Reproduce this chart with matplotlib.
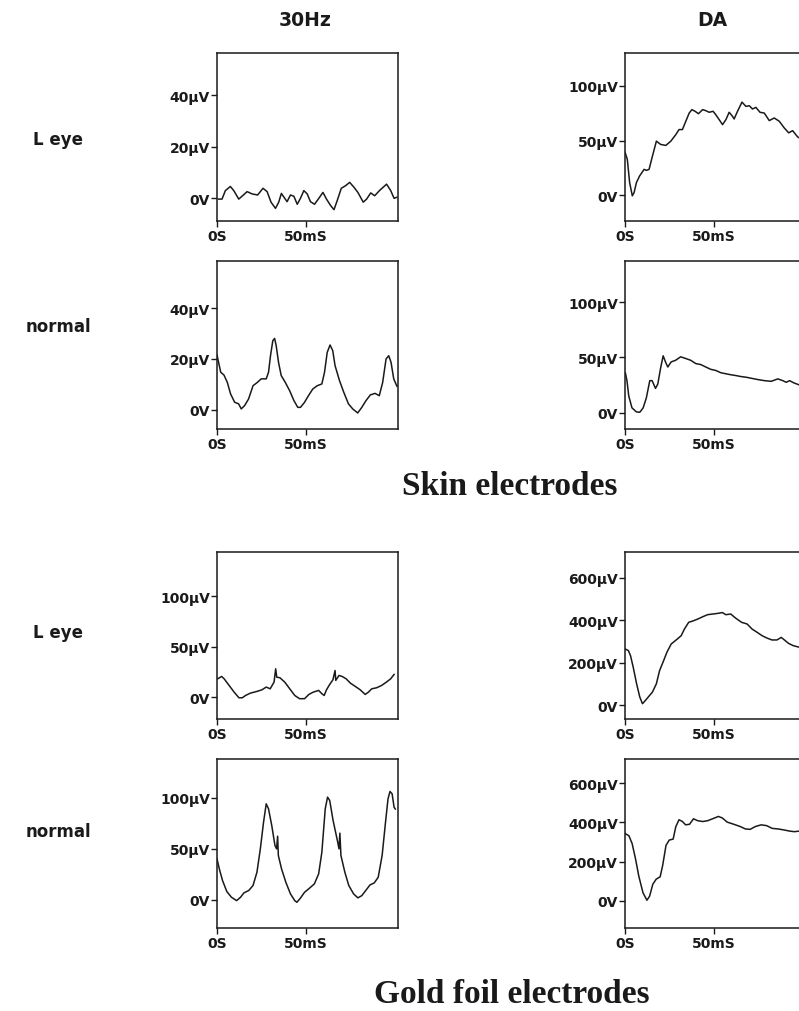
import matplotlib
matplotlib.use("Agg")
import matplotlib.pyplot as plt

# ---------------- data (time in ms, amplitude in µV) ----------------
skin_30hz_leye_t = [0.9, 2.8, 4.7, 7.5, 9.4, 12.2, 14.0, 16.9, 19.7, 22.8, 25.8, 28.1, 30.3, 32.8, 34.6, 36.1,
                    38.0, 39.3, 41.2, 43.1, 45.0, 46.8, 48.7, 50.6, 52.4, 54.7, 57.1, 59.4, 61.4, 63.7, 65.6,
                    67.4, 69.7, 72.1, 74.4, 76.8, 79.0, 82.0, 83.9, 86.2, 88.4, 91.4, 95.1, 97.4, 99.3, 100.8]
skin_30hz_leye_v = [-0.3, -0.3, 3.0, 4.6, 3.0, -0.3, 0.8, 2.6, 1.7, 1.3, 3.9, 2.6, -1.5, -3.9, -1.5, 1.9,
                    0.0, -1.3, 1.3, 0.8, -2.3, 0.0, 3.0, 1.7, -1.3, -2.3, 0.0, 2.3, -0.3, -2.8, -4.4,
                    -0.9, 3.9, 4.9, 6.2, 4.3, 2.3, -1.5, -0.3, 2.1, 1.0, 3.2, 5.5, 3.0, 0.0, 0.4]

skin_30hz_norm_t = [0, 1.1, 2.1, 3.9, 5.8, 7.6, 9.9, 12.1, 13.6, 15.5, 17.7, 20.2, 22.6, 24.8, 27.6, 28.9,
                    30.0, 31.3, 32.3, 33.2, 34.5, 36.0, 38.3, 40.7, 43.1, 45.3, 46.8, 49.1, 51.3, 53.7, 56.2,
                    58.8, 60.3, 61.8, 63.4, 64.9, 66.2, 68.7, 71.1, 73.7, 76.1, 78.9, 81.2, 83.6, 86.0, 88.6,
                    91.0, 92.9, 94.8, 96.3, 97.6, 99.1, 100.9]
skin_30hz_norm_v = [21.6, 18.0, 14.8, 13.7, 10.8, 6.3, 3.0, 2.4, 0.4, 1.7, 4.3, 9.5, 10.8, 12.2, 12.2, 14.8,
                    21.3, 27.2, 28.1, 25.2, 18.7, 13.5, 10.8, 7.6, 3.7, 1.0, 1.0, 3.0, 5.6, 8.2, 9.5,
                    10.2, 14.8, 22.6, 25.5, 23.3, 17.4, 11.5, 6.9, 2.4, 0.4, -1.2, 1.0, 3.7, 5.9, 6.5,
                    5.6, 10.8, 20.0, 21.3, 18.7, 12.2, 9.3]

skin_da_leye_t = [0, 1.3, 2.6, 4.1, 5.1, 6.4, 8.2, 10.7, 12.0, 13.5, 15.4, 17.6, 20.0, 22.9, 25.7, 28.5,
                  30.3, 32.2, 34.1, 36.0, 37.5, 39.3, 41.2, 43.5, 45.3, 47.2, 49.4, 50.9, 52.8, 54.7, 56.6,
                  58.4, 60.3, 61.2, 63.1, 65.6, 67.8, 69.7, 71.5, 73.4, 75.7, 78.1, 80.9, 83.7, 86.5, 89.3,
                  91.8, 94.0, 96.8, 100.0]
skin_da_leye_v = [39.4, 32.7, 11.5, -0.6, 2.4, 11.5, 17.6, 23.6, 22.7, 23.6, 35.8, 49.4, 46.4, 45.5, 49.4, 55.4,
                  60.0, 60.0, 67.6, 75.1, 78.2, 76.7, 74.5, 78.2, 77.3, 75.8, 76.7, 73.6, 69.1, 64.5, 69.1,
                  75.8, 72.1, 69.7, 76.7, 85.1, 81.2, 81.8, 78.8, 80.3, 75.8, 75.1, 68.2, 70.6, 67.6, 61.5,
                  57.0, 59.0, 53.3, 50.0]

skin_da_norm_t = [0.2, 1.1, 2.1, 3.9, 6.4, 8.3, 10.2, 12.0, 13.9, 15.2, 17.1, 18.4, 19.9, 21.4, 22.7, 24.0,
                  25.9, 28.4, 31.2, 34.0, 36.8, 39.7, 42.5, 45.3, 48.1, 50.9, 53.8, 56.6, 59.4, 62.2, 65.0,
                  67.9, 70.7, 74.4, 78.2, 82.0, 85.7, 88.5, 90.4, 92.3, 94.8, 98.0, 100.0]
skin_da_norm_v = [36.2, 29.1, 15.3, 4.6, 0.9, 0.6, 4.6, 13.8, 29.1, 29.1, 22.1, 26.1, 39.9, 51.5, 46.0, 41.4,
                  46.0, 47.5, 50.6, 49.1, 47.5, 44.5, 43.6, 41.4, 39.3, 38.3, 36.2, 35.3, 34.4, 33.7, 32.8,
                  32.2, 31.3, 30.1, 29.1, 28.5, 30.7, 29.1, 27.6, 29.1, 27.0, 25.1, 24.0]

gold_30hz_leye_t = [0.4, 2.6, 4.0, 6.8, 9.6, 12.3, 14.2, 16.0, 18.7, 22.4, 25.2, 27.6, 29.8, 32.0, 32.9, 33.5,
                    35.3, 38.0, 40.8, 43.6, 46.3, 49.1, 51.5, 54.0, 57.0, 58.8, 60.1, 61.4, 63.2, 65.0, 66.2,
                    66.6, 68.4, 70.2, 72.4, 74.8, 77.6, 80.3, 83.1, 84.9, 86.8, 89.5, 92.3, 95.0, 97.4, 99.3]
gold_30hz_leye_v = [18.1, 20.4, 18.1, 11.5, 4.9, -0.7, -0.7, 1.6, 3.9, 5.6, 7.2, 9.9, 8.2, 14.8, 28.0, 19.7,
                    19.1, 14.8, 8.2, 1.6, -1.6, -1.6, 2.6, 4.9, 6.6, 3.3, 1.6, 7.2, 12.5, 17.1, 26.3,
                    16.5, 21.4, 20.4, 18.1, 13.8, 10.5, 7.2, 2.6, 4.9, 8.2, 9.2, 11.5, 14.8, 18.1, 22.4]

gold_30hz_norm_t = [0, 1.3, 3.1, 5.5, 8.1, 11.0, 13.2, 15.1, 17.8, 20.2, 22.4, 24.3, 26.1, 27.6, 28.9, 30.7,
                    32.5, 33.4, 34.0, 34.4, 36.2, 38.6, 41.2, 43.6, 44.8, 46.7, 49.1, 51.8, 54.6, 57.0, 58.8,
                    60.7, 62.0, 63.2, 65.1, 67.5, 68.4, 68.9, 69.5, 71.7, 73.9, 76.6, 79.0, 81.2, 83.4, 85.8,
                    88.2, 90.4, 92.6, 94.5, 95.9, 97.0, 98.2, 99.3, 100.0]
gold_30hz_norm_v = [40.2, 30.4, 19.0, 8.2, 2.6, -0.7, 2.6, 6.9, 9.2, 14.1, 27.1, 50.0, 76.1, 94.1, 89.2, 72.9,
                    53.3, 50.0, 62.4, 43.5, 30.4, 17.3, 5.9, -0.7, -2.3, 1.6, 7.5, 11.4, 15.7, 25.5, 46.7,
                    89.2, 100.7, 97.4, 77.8, 58.2, 50.0, 65.4, 43.5, 27.1, 14.1, 5.9, 2.0, 4.2, 9.2, 14.7,
                    16.7, 22.2, 43.5, 76.1, 99.0, 106.2, 103.9, 90.8, 89.0]

gold_da_leye_t = [0, 1.9, 3.1, 4.6, 6.5, 8.3, 9.8, 11.1, 13.0, 15.4, 17.6, 19.4, 21.3, 23.5, 25.9, 28.7,
                  31.5, 33.3, 35.7, 38.3, 40.7, 43.5, 46.3, 49.1, 51.9, 54.6, 56.5, 59.3, 62.0, 65.4, 68.5,
                  71.3, 74.1, 76.9, 79.6, 82.4, 85.2, 87.6, 89.4, 91.7, 94.4, 98.1, 100.0]
gold_da_leye_v = [266, 258, 234, 180, 102, 39, 8, 20, 39, 63, 102, 164, 203, 250, 289, 308,
                  328, 359, 391, 398, 406, 417, 427, 430, 433, 437, 427, 430, 411, 391, 383,
                  359, 344, 328, 317, 308, 308, 320, 308, 292, 281, 273, 268]

gold_da_norm_t = [0, 2.2, 4.0, 5.9, 7.7, 10.1, 12.3, 13.8, 15.6, 17.5, 19.7, 21.1, 23.0, 24.8, 27.0, 28.5,
                  30.3, 32.2, 34.0, 36.2, 38.4, 40.8, 43.6, 46.3, 49.1, 52.4, 54.6, 57.3, 61.0, 64.7, 67.5,
                  70.2, 73.0, 76.3, 79.4, 82.5, 85.8, 89.1, 92.3, 95.0, 97.8, 100.0]
gold_da_norm_v = [344, 332, 292, 214, 127, 40, 2, 23, 84, 110, 122, 179, 283, 310, 315, 379,
                  414, 405, 388, 391, 419, 409, 405, 409, 419, 431, 423, 402, 391, 379, 367,
                  365, 379, 388, 384, 370, 367, 362, 356, 353, 356, 352]

col_titles = ["30Hz", "DA"]
row_labels = ["L eye", "normal", "L eye", "normal"]
section_titles = ["Skin electrodes", "Gold foil electrodes"]
xticks = [0, 50]
xticklabels = ["0S", "50mS"]
yticks_30_skin = [0, 20, 40]
yticks_da_skin = [0, 50, 100]
yticks_30_gold = [0, 50, 100]
yticks_da_gold = [0, 200, 400, 600]

# ---------------- layout ----------------
W, H = 799, 1012
fig = plt.figure(figsize=(W / 100, H / 100), dpi=100)

def frac_box(left, top, right, bottom):
    return [left / W, 1 - bottom / H, (right - left) / W, (bottom - top) / H]

col_x = [(217, 398), (625, 806)]
row_y = [(54, 222), (262, 430), (553, 720), (760, 929)]

panels = [
    (0, 0, skin_30hz_leye_t, skin_30hz_leye_v, yticks_30_skin, (-8.8, 56.4)),
    (0, 1, skin_da_leye_t, skin_da_leye_v, yticks_da_skin, (-23.6, 130)),
    (1, 0, skin_30hz_norm_t, skin_30hz_norm_v, yticks_30_skin, (-7.5, 58.5)),
    (1, 1, skin_da_norm_t, skin_da_norm_v, yticks_da_skin, (-14.5, 137)),
    (2, 0, gold_30hz_leye_t, gold_30hz_leye_v, yticks_30_gold, (-21.7, 143.6)),
    (2, 1, gold_da_leye_t, gold_da_leye_v, yticks_da_gold, (-64, 722)),
    (3, 0, gold_30hz_norm_t, gold_30hz_norm_v, yticks_30_gold, (-27.5, 138)),
    (3, 1, gold_da_norm_t, gold_da_norm_v, yticks_da_gold, (-140, 725)),
]

tick_font = dict(family="DejaVu Sans", weight="bold", size=10)
ink = "#1a1a1a"

def ylabel_fmt(v):
    return "0V" if v == 0 else f"{v}µV"

for r, c, t, v, yt, yl in panels:
    (l, rr), (tp, bt) = col_x[c], row_y[r]
    ax = fig.add_axes(frac_box(l, tp, rr, bt))
    ax.plot(t, v, color=ink, lw=1.1)
    ax.set_xlim(0, 101.5)
    ax.set_ylim(*yl)
    ax.set_xticks(xticks)
    ax.set_xticklabels(xticklabels, fontdict=tick_font, color=ink)
    ax.set_yticks(yt)
    ax.set_yticklabels([ylabel_fmt(x) for x in yt], fontdict=tick_font, color=ink)
    ax.tick_params(direction="out", length=4, width=1.0, colors=ink, pad=1)
    ax.tick_params(axis="x", pad=2)
    for s in ax.spines.values():
        s.set_color(ink)
        s.set_linewidth(1.1)
    ax.set_facecolor("white")

# column titles
fig.text(305 / W, 1 - 20 / H, col_titles[0], ha="center", va="center",
         family="DejaVu Sans", weight="bold", size=13.5, color=ink)
fig.text(712 / W, 1 - 20 / H, col_titles[1], ha="center", va="center",
         family="DejaVu Sans", weight="bold", size=13.5, color=ink)

# row labels
row_label_y = [140, 327, 633, 832]
for lab, y in zip(row_labels, row_label_y):
    fig.text(58 / W, 1 - y / H, lab, ha="center", va="center",
             family="DejaVu Sans", weight="bold", size=12, color=ink)

# section titles
fig.text(510 / W, 1 - 487 / H, section_titles[0], ha="center", va="center",
         family="Liberation Serif", weight="bold", size=24, color=ink)
fig.text(512 / W, 1 - 995 / H, section_titles[1], ha="center", va="center",
         family="Liberation Serif", weight="bold", size=24, color=ink)

fig.savefig("out.png", dpi=100, facecolor="white")
